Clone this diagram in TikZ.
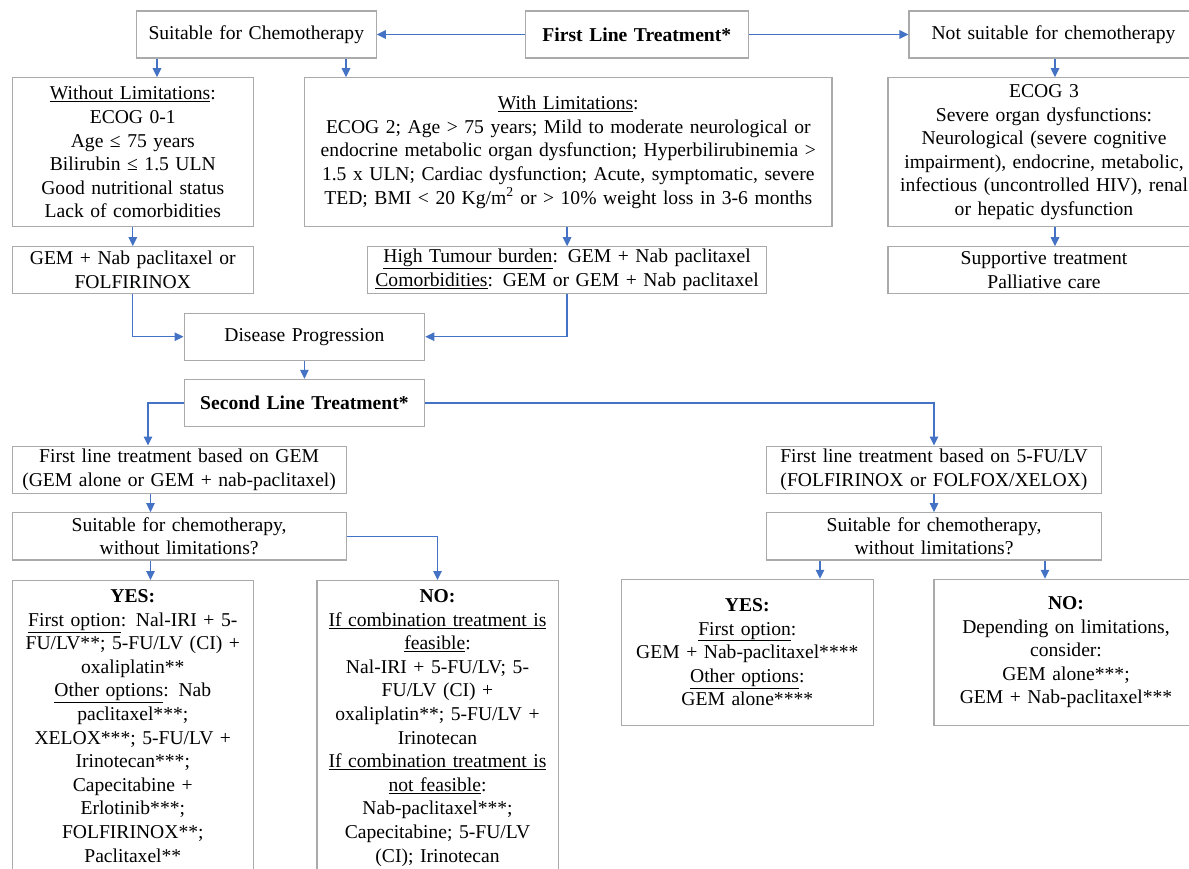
\documentclass[tikz,border=0pt]{standalone}
\usepackage{fontspec}
\setmainfont{Liberation Serif}
\usetikzlibrary{arrows.meta}
\definecolor{arrowblue}{RGB}{68,114,196}
\definecolor{boxgray}{RGB}{170,170,170}
\begin{document}
\begin{tikzpicture}[x=1pt,y=-1pt,
  box/.style={draw=boxgray, line width=1.1pt, align=center, inner xsep=2pt, inner ysep=1pt, font=\fontsize{19.6}{23.6}\selectfont},
  conn/.style={draw=arrowblue, line width=1.3pt, -{Triangle[length=9pt,width=8.5pt]}}]
\useasboundingbox[fill=white] (0,0) rectangle (1189,869);

\node[box, minimum width=240pt, minimum height=47pt, text width=236pt] (suit) at (256.3,34.5) {Suitable for Chemotherapy};
\node[box, minimum width=222.5pt, minimum height=47pt, text width=218pt] (first) at (636.8,34.5) {\textbf{First Line Treatment*}};
\node[box, minimum width=289pt, minimum height=47pt, text width=285pt] (notsuit) at (1053.5,34.5) {Not suitable for chemotherapy};

\node[box, minimum width=241pt, minimum height=149pt, text width=237pt] (without) at (132.8,152.2) {\underline{Without Limitations}:\\ECOG 0-1\\Age ≤ 75 years\\Bilirubin ≤ 1.5 ULN\\Good nutritional status\\Lack of comorbidities};
\node[box, minimum width=527.3pt, minimum height=149pt, text width=523pt] (with) at (568.3,152.2) {\underline{With Limitations}:\\ECOG 2; Age > 75 years; Mild to moderate neurological or\\endocrine metabolic organ dysfunction; Hyperbilirubinemia >\\1.5 x ULN; Cardiac dysfunction; Acute, symptomatic, severe\\TED; BMI < 20 Kg/m\textsuperscript{2} or > 10\% weight loss in 3-6 months};
\node[box, minimum width=312pt, minimum height=149pt, text width=308pt] (ecog) at (1044,152.2) {ECOG 3\\Severe organ dysfunctions:\\Neurological (severe cognitive\\impairment), endocrine, metabolic,\\infectious (uncontrolled HIV), renal\\or hepatic dysfunction};

\node[box, minimum width=241pt, minimum height=46.6pt, text width=237pt] (gemnab) at (132.8,270) {GEM + Nab paclitaxel or\\FOLFIRINOX};
\node[box, minimum width=399.4pt, minimum height=46.6pt, text width=395pt] (high) at (567.1,270) {\underline{High Tumour burden}: GEM + Nab paclitaxel\\\underline{Comorbidities}: GEM or GEM + Nab paclitaxel};
\node[box, minimum width=312pt, minimum height=46.6pt, text width=308pt] (support) at (1044,270) {Supportive treatment\\Palliative care};

\node[box, minimum width=240.7pt, minimum height=46.7pt, text width=236pt] (dp) at (304.4,336.7) {Disease Progression};
\node[box, minimum width=240.7pt, minimum height=47.3pt, text width=236pt] (second) at (304.4,403) {\textbf{Second Line Treatment*}};

\node[box, minimum width=333.8pt, minimum height=47.3pt, text width=330pt] (fgem) at (179.1,469.7) {First line treatment based on GEM\\(GEM alone or GEM + nab-paclitaxel)};
\node[box, minimum width=333.8pt, minimum height=47.3pt, text width=330pt] (sgem) at (179.1,536.3) {Suitable for chemotherapy,\\without limitations?};
\node[box, minimum width=335.3pt, minimum height=47.3pt, text width=331pt] (f5fu) at (934,469.7) {First line treatment based on 5-FU/LV\\(FOLFIRINOX or FOLFOX/XELOX)};
\node[box, minimum width=335.3pt, minimum height=47.3pt, text width=331pt] (s5fu) at (934,536.3) {Suitable for chemotherapy,\\without limitations?};

\node[box, minimum width=241pt, text width=237pt, anchor=north, inner ysep=9pt, text depth=320pt] (yesL) at (132.8,580) {\textbf{YES:}\\\underline{First option}: Nal-IRI + 5-\\FU/LV**; 5-FU/LV (CI) +\\oxaliplatin**\\\underline{Other options}: Nab\\paclitaxel***;\\XELOX***; 5-FU/LV +\\Irinotecan***;\\Capecitabine +\\Erlotinib***;\\FOLFIRINOX**;\\Paclitaxel**};
\node[box, minimum width=241.1pt, text width=237pt, anchor=north, inner ysep=9pt, text depth=320pt] (noL) at (437.5,580) {\textbf{NO:}\\\underline{If combination treatment is}\\\underline{feasible}:\\Nal-IRI + 5-FU/LV; 5-\\FU/LV (CI) +\\oxaliplatin**; 5-FU/LV +\\Irinotecan\\\underline{If combination treatment is}\\\underline{not feasible}:\\Nab-paclitaxel***;\\Capecitabine; 5-FU/LV\\(CI); Irinotecan};

\node[box, minimum width=251.8pt, minimum height=146pt, text width=247pt] (yesR) at (747.3,652.3) {\textbf{YES:}\\\underline{First option}:\\GEM + Nab-paclitaxel****\\\underline{Other options}:\\GEM alone****};
\node[box, minimum width=264pt, minimum height=146pt, text width=260pt] (noR) at (1066,652.3) {\textbf{NO:}\\Depending on limitations,\\consider:\\GEM alone***;\\GEM + Nab-paclitaxel***};

\coordinate (cA) at (157,0);
\coordinate (cB) at (346,0);
\coordinate (cC) at (1055,0);
\coordinate (cD) at (148,0);
\coordinate (cE) at (150.5,0);
\coordinate (cF) at (820,0);
\coordinate (cG) at (1045,0);

\draw[conn] (first.west) -- (suit.east);
\draw[conn] (first.east) -- (notsuit.west);
\draw[conn] (suit.south -| cA) -- (without.north -| cA);
\draw[conn] (suit.south -| cB) -- (with.north -| cB);
\draw[conn] (notsuit.south -| cC) -- (ecog.north -| cC);
\draw[conn] (without.south) -- (gemnab.north);
\draw[conn] (high.north |- with.south) -- (high.north);
\draw[conn] (ecog.south -| cC) -- (support.north -| cC);
\draw[conn] (gemnab.south) |- (dp.west);
\draw[conn] (high.south) |- (dp.east);
\draw[conn] (dp.south) -- (second.north);
\draw[conn] (second.west) -| (cD |- fgem.north);
\draw[conn] (second.east) -| (f5fu.north);
\draw[conn] (fgem.south -| cE) -- (sgem.north -| cE);
\draw[conn] (sgem.south -| cE) -- (yesL.north -| cE);
\draw[conn] (sgem.east) -| (noL.north);
\draw[conn] (f5fu.south) -- (s5fu.north);
\draw[conn] (s5fu.south -| cF) -- (yesR.north -| cF);
\draw[conn] (s5fu.south -| cG) -- (noR.north -| cG);
\end{tikzpicture}
\end{document}
